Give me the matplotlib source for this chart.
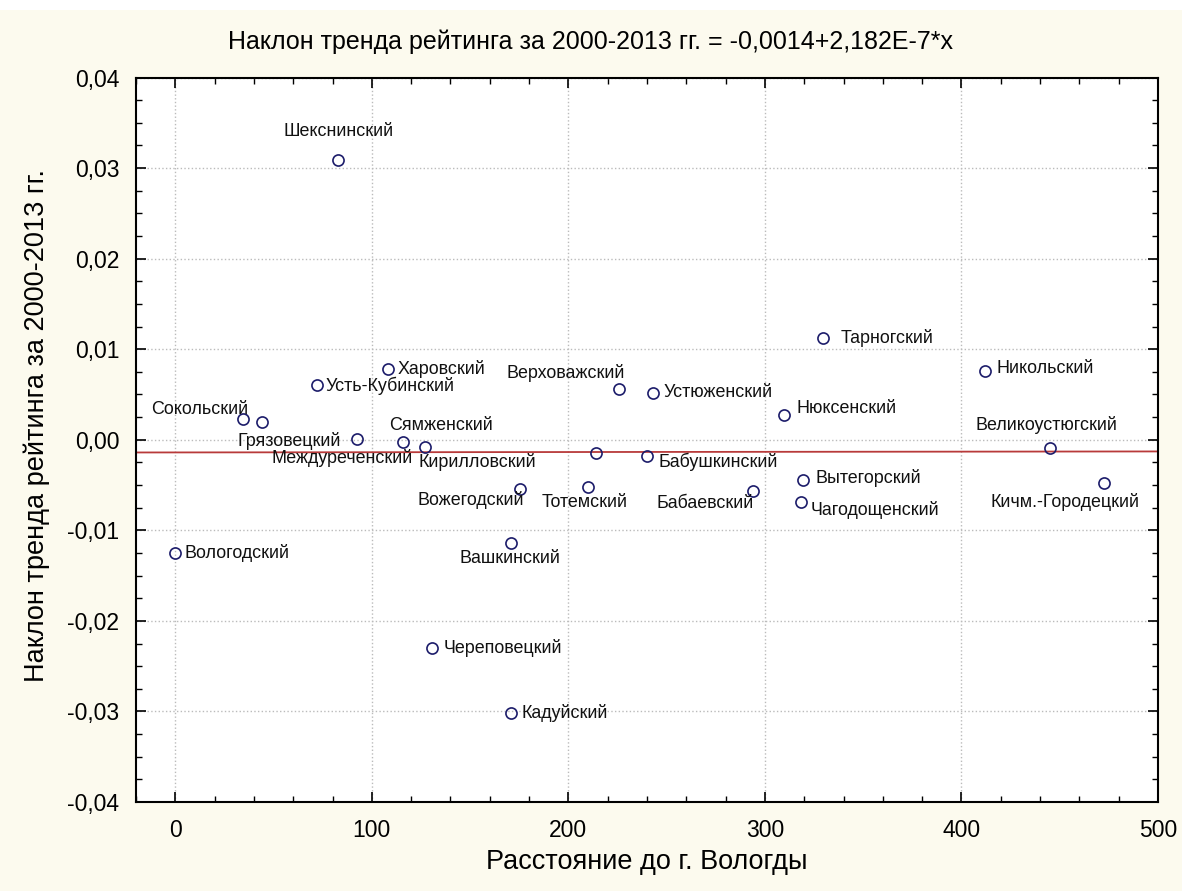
import matplotlib
matplotlib.use("Agg")
import matplotlib.pyplot as plt
from matplotlib.ticker import FuncFormatter, AutoMinorLocator
from matplotlib.patches import Rectangle

plt.rcParams['font.family'] = ['Liberation Sans', 'DejaVu Sans']

# ---- data ----
districts = ["Вологодский", "Сокольский", "Грязовецкий", "Шекснинский", "Усть-Кубинский",
             "Междуреченский", "Харовский", "Сямженский", "Кирилловский", "Череповецкий",
             "Вашкинский", "Вожегодский", "Кадуйский", "", "Тотемский",
             "Верховажский", "Устюженский", "Бабушкинский", "Бабаевский", "Тарногский",
             "Нюксенский", "Вытегорский", "Чагодощенский", "Никольский", "Великоустюгский",
             "Кичм.-Городецкий"]
distance = [0, 34.5, 44, 83, 72,
            92.4, 108, 115.7, 127, 130.5,
            171, 175.6, 170.6, 214, 210,
            226, 243, 240, 294, 329.4,
            309.6, 319.3, 318.3, 412, 445,
            472.6]
slope = [-0.0125, 0.0023, 0.0020, 0.0309, 0.0060,
         0.0001, 0.0078, -0.0002, -0.0008, -0.0230,
         -0.0114, -0.0054, -0.0302, -0.0015, -0.0052,
         0.0056, 0.0052, -0.0018, -0.0057, 0.0112,
         0.0027, -0.0044, -0.0069, 0.0076, -0.0009,
         -0.0048]
intercept = -0.0014
coef = 2.182e-7
x_ticks = [0, 100, 200, 300, 400, 500]
y_ticks = [-0.04, -0.03, -0.02, -0.01, 0.0, 0.01, 0.02, 0.03, 0.04]
title = "Наклон тренда рейтинга за 2000-2013 гг. = -0,0014+2,182E-7*x"
x_label = "Расстояние до г. Вологды"
y_label = "Наклон тренда рейтинга за 2000-2013 гг."

# label placement (pixel offsets, alignment) -- style only
label_pos = {
    "Вологодский": (9, 0, 'left'),
    "Сокольский": (5, 9, 'right'),
    "Грязовецкий": (79, -19, 'right'),
    "Шекснинский": (0, 28, 'center'),
    "Усть-Кубинский": (9, 0, 'left'),
    "Междуреченский": (-15, -19, 'center'),
    "Харовский": (10, 0, 'left'),
    "Сямженский": (38, 16, 'center'),
    "Кирилловский": (52, -15, 'center'),
    "Череповецкий": (12, 0, 'left'),
    "Вашкинский": (-1, -16, 'center'),
    "Вожегодский": (4, -11, 'right'),
    "Кадуйский": (11, 0, 'left'),
    "Тотемский": (-3, -16, 'center'),
    "Верховажский": (5, 16, 'right'),
    "Устюженский": (11, 0, 'left'),
    "Бабушкинский": (11, -6, 'left'),
    "Бабаевский": (1, -12, 'right'),
    "Тарногский": (18, 0, 'left'),
    "Нюксенский": (13, 7, 'left'),
    "Вытегорский": (13, 2, 'left'),
    "Чагодощенский": (10, -8, 'left'),
    "Никольский": (11, 2, 'left'),
    "Великоустюгский": (-3, 23, 'center'),
    "Кичм.-Городецкий": (-39, -19, 'center'),
}

W, H = 1182, 891
fig = plt.figure(figsize=(W / 100, H / 100), dpi=100, facecolor='#fcfaee')
fig.patches.append(Rectangle((0, 1 - 10 / H), 1, 10 / H, transform=fig.transFigure,
                             facecolor='white', edgecolor='none', zorder=0))
ax = fig.add_axes([136 / W, 1 - 802 / H, (1158 - 136) / W, (802 - 77.5) / H])
ax.set_facecolor('white')

ax.set_xlim(-20, 500)
ax.set_ylim(-0.04, 0.04)

# trend line
xl = [-20, 500]
ax.plot(xl, [intercept + coef * v for v in xl], color='#b83a3a', lw=1.3, zorder=2)

ax.plot(distance, slope, linestyle='none', marker='o', markersize=8,
        markerfacecolor='none', markeredgecolor='#1c1c6a', markeredgewidth=1.2, zorder=3)

for name, xv, yv in zip(districts, distance, slope):
    if not name:
        continue
    dx, dy, ha = label_pos[name]
    ax.annotate(name, (xv, yv), xytext=(dx, dy), textcoords='offset pixels',
                ha=ha, va='center', fontsize=12.9, color='#111111', zorder=4)

ax.set_xticks(x_ticks)
ax.set_yticks(y_ticks)
ax.xaxis.set_minor_locator(AutoMinorLocator(5))
ax.yaxis.set_minor_locator(AutoMinorLocator(4))
ax.yaxis.set_major_formatter(FuncFormatter(lambda v, p: f"{v:.2f}".replace('.', ',').replace('-0,00', '0,00')))
ax.tick_params(which='both', direction='in', top=True, right=True, labelsize=16.5, colors='black')
ax.tick_params(which='major', length=7, width=1.2, pad=12)
ax.tick_params(which='minor', length=4, width=1.0)
ax.grid(True, which='major', linestyle=':', color='#bbbbbb', lw=1.0)
for s in ax.spines.values():
    s.set_linewidth(1.5)
    s.set_color('black')

fig.text(590 / W, 1 - 42 / H, title, fontsize=18, ha='center', va='center')
fig.text(647 / W, 1 - 862 / H, x_label, fontsize=19.5, ha='center', va='center')
fig.text(37 / W, 1 - 426 / H, y_label, fontsize=19.5, ha='center', va='center', rotation=90)

fig.savefig("out.png", dpi=100, facecolor=fig.get_facecolor())
